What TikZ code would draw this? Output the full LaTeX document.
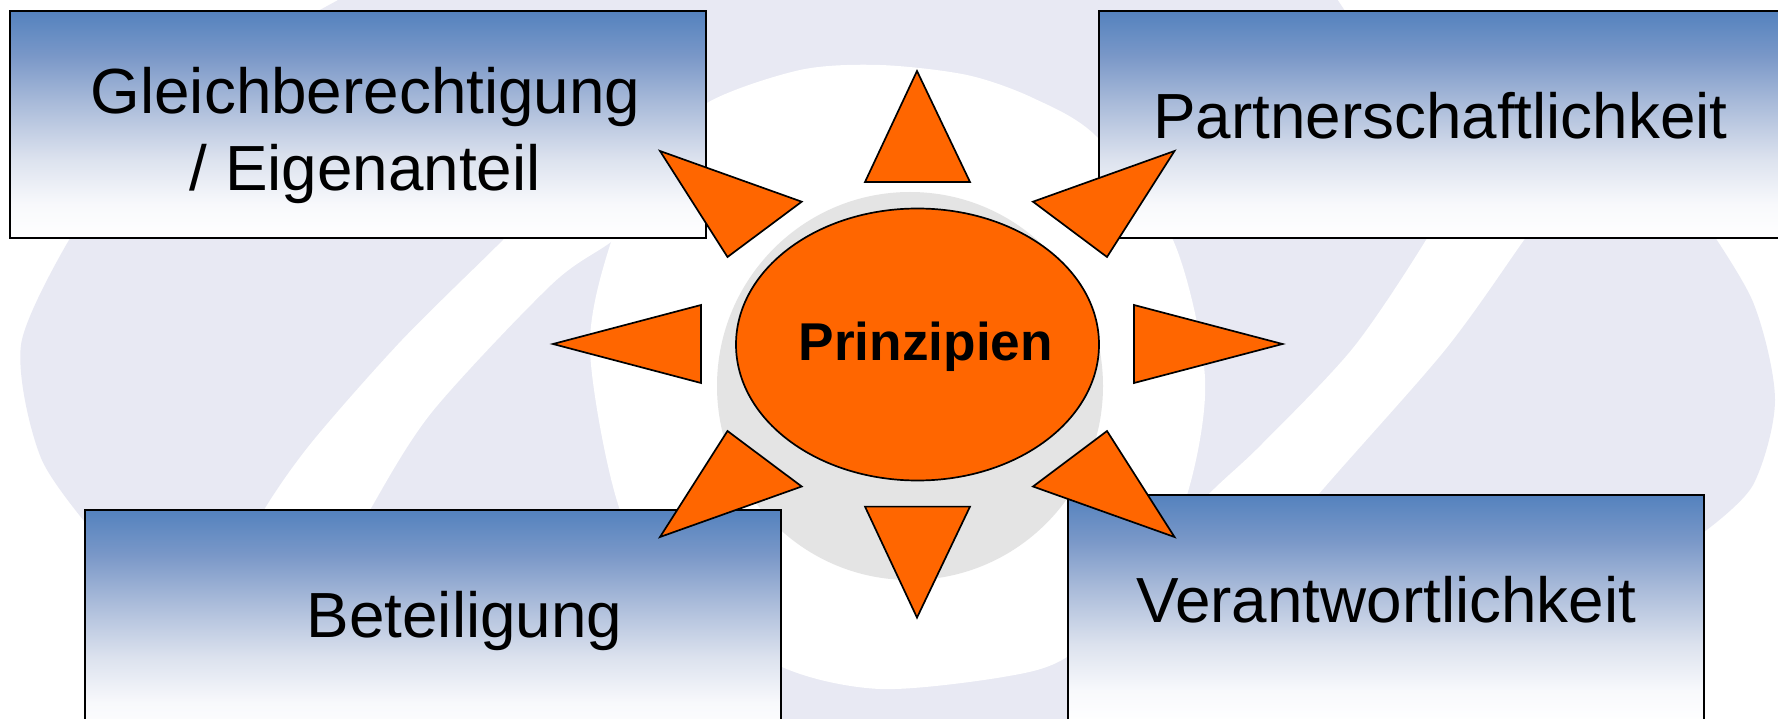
\documentclass[tikz,border=0pt]{standalone}
\usepackage{fontspec}
\setmainfont{Liberation Sans}
\definecolor{lav}{HTML}{E8E9F3}
\definecolor{greyc}{HTML}{E4E4E4}
\definecolor{orng}{HTML}{FF6600}
\definecolor{sa}{HTML}{5482BE}
\definecolor{sb}{HTML}{7A98C8}
\definecolor{sc}{HTML}{A8BAD9}
\definecolor{sd}{HTML}{DCE2EE}
\definecolor{se}{HTML}{F8F9FC}
\pgfdeclareverticalshading{boxsh}{100bp}{color(0bp)=(white); color(25bp)=(white); color(32.5bp)=(se); color(42.5bp)=(sd); color(55bp)=(sc); color(65bp)=(sb); color(75bp)=(sa); color(100bp)=(sa)}
\tikzset{
  x=1pt,y=-1pt,
  boxbg/.style={draw=black,line width=2pt,shading=boxsh,shade},
  ray/.style={draw=black,line width=1.7pt,fill=orng,line join=miter},
  lbl/.style={inner sep=0pt,anchor=base west,text=black,font=\fontsize{63.8pt}{76.6pt}\selectfont},
  hub/.style={inner sep=0pt,anchor=base west,text=black,font=\fontsize{53.2pt}{60pt}\selectfont\bfseries}
}
\begin{document}
\begin{tikzpicture}
\useasboundingbox (0,0) rectangle (1778,719);
\clip (0,0) rectangle (1778,719);
\fill[white] (0,0) rectangle (1778,719);
% logo silhouette
\fill[lav] plot[smooth,tension=0.5] coordinates {(69,240)(21,345)(41,458)(100,540)}
  -- (100,740) -- (1700,740) -- (1704,532)
  -- plot[smooth,tension=0.5] coordinates {(1704,532)(1753,485)(1775,400)(1753,302)(1700,215)}
  -- (1345,11) -- (1337,-1) -- (340,-1) -- (318,11) -- (90,215) -- cycle;
% white centre
\fill[white] plot[smooth cycle,tension=0.5] coordinates {(611,242)(590,350)(620,510)(680,600)(782,667)(880,689)(1003,677)(1067,657)(1140,590)(1187,495)(1205,378)(1173,240)(1097,137)(1033,98)(967,75)(880,65)(800,70)(707,103)(650,160)};
% white swooshes
\fill[white] plot[smooth,tension=0.5] coordinates {(540,200)(503,240)(402,340)(312,442)(264,510)(235,570)} -- plot[smooth,tension=0.5] coordinates {(340,570)(370,510)(432,412)(551,285)(611,242)(680,190)} -- cycle;
\fill[white] plot[smooth,tension=0.5] coordinates {(1450,190)(1426,240)(1353,348)(1261,445)(1208,495)(1140,570)} -- plot[smooth,tension=0.5] coordinates {(1260,570)(1318,495)(1445,350)(1524,240)(1560,190)} -- cycle;
% grey shadow
\fill[greyc] (910,386) ellipse [x radius=193,y radius=194];
% boxes
\path[boxbg] (9.5,11) rectangle (706,238.5);
\path[boxbg] (1099,11) rectangle (1795,238.5);
\path[boxbg] (85,510) rectangle (781,737);
\path[boxbg] (1068,495) rectangle (1704,725);
% labels
\node[lbl] (glb) at (90.5,113.7) {Gleichberechtigung};
\node[lbl] (eig) at (189.5,190.5) {/ Eigenanteil};
\node[lbl] (par) at (1153,138.5) {Partnerschaftlichkeit};
\node[lbl] (bet) at (306.5,637) {Beteiligung};
\node[lbl] (ver) at (1136,622.6) {Verantwortlichkeit};
% rays
\draw[ray] (917,71) -- (970,182) -- (865,182) -- cycle;
\draw[ray] (917,617.6) -- (970,506.6) -- (865,506.6) -- cycle;
\draw[ray] (553,344) -- (701,305) -- (701,383) -- cycle;
\draw[ray] (1282.5,344) -- (1134,305) -- (1134,383) -- cycle;
\draw[ray] (660,151) -- (801.7,201.7) -- (727.5,257) -- cycle;
\draw[ray] (1174.5,151) -- (1033,201.7) -- (1107,257) -- cycle;
\draw[ray] (660,537) -- (801.7,486.5) -- (727.5,431) -- cycle;
\draw[ray] (1174.5,537) -- (1033,486.5) -- (1107,431) -- cycle;
% hub
\draw[draw=black,line width=1.7pt,fill=orng] (917.5,344.5) ellipse [x radius=181.5,y radius=136];
\node[hub] (pri) at (798.5,360) {Prinzipien};
\end{tikzpicture}
\end{document}
